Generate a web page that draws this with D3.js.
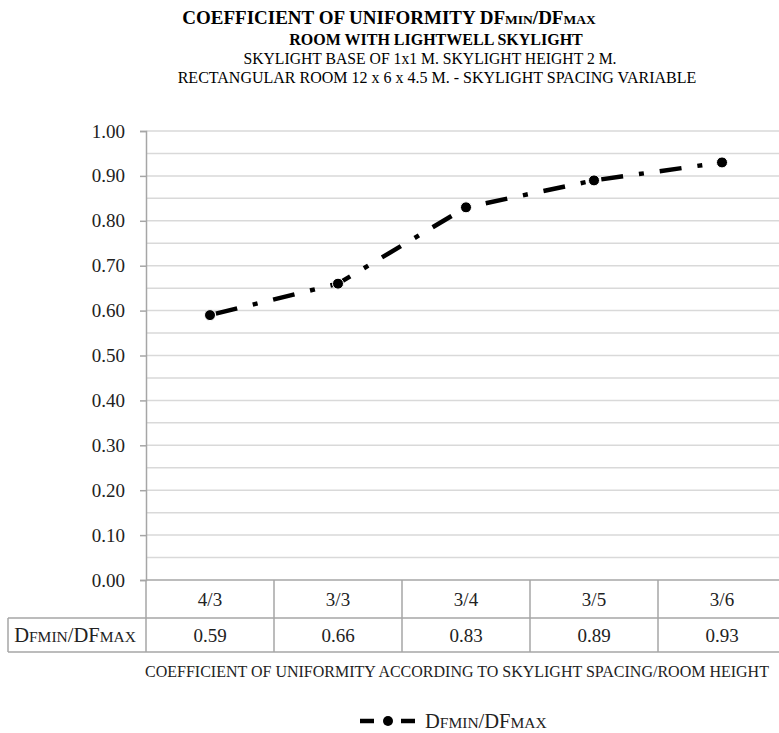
<!DOCTYPE html>
<html><head><meta charset="utf-8">
<script src="https://cdn.jsdelivr.net/npm/d3@7"></script>
<style>body{margin:0;background:#fff}svg{display:block}text{font-family:"Liberation Serif",serif}</style>
</head><body>
<svg id="chart" width="779" height="733"></svg>
<script>
const categories = ["4/3","3/3","3/4","3/5","3/6"];
const values = [0.59,0.66,0.83,0.89,0.93];
const yTicks = [0,0.1,0.2,0.3,0.4,0.5,0.6,0.7,0.8,0.9,1.0];
const minorTicks = [0.05,0.15,0.25,0.35,0.45,0.55,0.65,0.75,0.85,0.95];
const seriesName = [["D",1],["Fmin",0],["/DF",1],["max",0]];

const FF = "Liberation Serif";
const svg = d3.select("#chart");
const x = d3.scaleBand().domain(categories).range([146,786]).padding(0);
const y = d3.scaleLinear().domain([0,1]).range([580,131]);
const grid = "#d9d9d9", border = "#a6a6a6";
function txt(g){ return g.append("text").attr("font-family",FF); }

// titles
const t1 = txt(svg).attr("x",389).attr("y",24).attr("text-anchor","middle")
  .attr("font-size",19).attr("font-weight","bold");
t1.append("tspan").text("COEFFICIENT OF UNIFORMITY DF");
t1.append("tspan").attr("font-size",13.5).text("MIN");
t1.append("tspan").text("/DF");
t1.append("tspan").attr("font-size",13.5).text("MAX");
txt(svg).attr("x",436).attr("y",45).attr("text-anchor","middle")
  .attr("font-size",16).attr("font-weight","bold").text("ROOM WITH LIGHTWELL SKYLIGHT");
txt(svg).attr("x",430).attr("y",64).attr("text-anchor","middle")
  .attr("font-size",15.7).text("SKYLIGHT BASE OF 1x1 M. SKYLIGHT HEIGHT 2 M.");
txt(svg).attr("x",437).attr("y",83).attr("text-anchor","middle")
  .attr("font-size",16).text("RECTANGULAR ROOM 12 x 6 x 4.5 M. - SKYLIGHT SPACING VARIABLE");

// gridlines
svg.append("g").selectAll("line").data(yTicks.concat(minorTicks).filter(d=>d>0)).join("line")
  .attr("x1",146).attr("x2",779).attr("y1",d=>y(d)).attr("y2",d=>y(d))
  .attr("stroke",grid).attr("stroke-width",1.5);

// y axis
const yAxis = d3.axisLeft(y).tickValues(yTicks).tickSize(6).tickFormat("");
const ga = svg.append("g").attr("transform","translate(146,0)").call(yAxis);
ga.select(".domain").attr("stroke",border).attr("stroke-width",1.5);
ga.selectAll(".tick line").attr("stroke",border).attr("stroke-width",1.5);
svg.append("g").selectAll("text").data(yTicks).join("text").attr("font-family",FF)
  .attr("x",125).attr("y",d=>y(d)+6.5).attr("text-anchor","end")
  .attr("font-size",19).attr("fill","#222").text(d=>d3.format(".2f")(d));

// table
const tb = svg.append("g").attr("stroke",border).attr("stroke-width",1.5).attr("fill","none");
tb.append("line").attr("x1",146).attr("x2",779).attr("y1",580).attr("y2",580);
tb.append("line").attr("x1",8).attr("x2",779).attr("y1",618).attr("y2",618);
tb.append("line").attr("x1",8).attr("x2",779).attr("y1",652).attr("y2",652);
tb.append("line").attr("x1",8).attr("x2",8).attr("y1",618).attr("y2",652);
tb.selectAll(".v").data(categories).join("line").attr("class","v")
  .attr("x1",d=>x(d)).attr("x2",d=>x(d)).attr("y1",580).attr("y2",652);
svg.append("g").selectAll("text").data(categories).join("text").attr("font-family",FF)
  .attr("x",d=>x(d)+x.bandwidth()/2).attr("y",606).attr("text-anchor","middle")
  .attr("font-size",19).attr("fill","#222").text(d=>d);
svg.append("g").selectAll("text").data(values).join("text").attr("font-family",FF)
  .attr("x",(d,i)=>x(categories[i])+x.bandwidth()/2).attr("y",642).attr("text-anchor","middle")
  .attr("font-size",19).attr("fill","#222").text(d=>d3.format(".2f")(d));
function nameText(sel){
  seriesName.forEach(([s,big])=>{
    sel.append("tspan").attr("font-size",big?20.5:15.5).text(big?s:s.toUpperCase());
  });
}
nameText(txt(svg).attr("x",75).attr("y",642).attr("text-anchor","middle").attr("fill","#222"));

// x axis title
txt(svg).attr("x",457).attr("y",677).attr("text-anchor","middle")
  .attr("font-size",16).attr("fill","#222")
  .text("COEFFICIENT OF UNIFORMITY ACCORDING TO SKYLIGHT SPACING/ROOM HEIGHT");

// series line
const pts = categories.map((c,i)=>[x(c)+x.bandwidth()/2, y(values[i])]);
svg.append("path").attr("d",d3.line()(pts)).attr("fill","none").attr("stroke","#000")
  .attr("stroke-width",4.5).attr("stroke-dasharray","22,16,5,16").attr("stroke-dashoffset",-6);
svg.append("g").selectAll("circle").data(pts).join("circle")
  .attr("cx",d=>d[0]).attr("cy",d=>d[1]).attr("r",5.5).attr("fill","#000")
  .attr("stroke","#fff").attr("stroke-width",1);

// legend
svg.append("line").attr("x1",360).attr("x2",374).attr("y1",721).attr("y2",721).attr("stroke","#000").attr("stroke-width",4.5);
svg.append("line").attr("x1",401).attr("x2",415).attr("y1",721).attr("y2",721).attr("stroke","#000").attr("stroke-width",4.5);
svg.append("circle").attr("cx",388).attr("cy",721).attr("r",5).attr("fill","#000");
nameText(txt(svg).attr("x",425).attr("y",728).attr("fill","#222"));
</script>
</body></html>
